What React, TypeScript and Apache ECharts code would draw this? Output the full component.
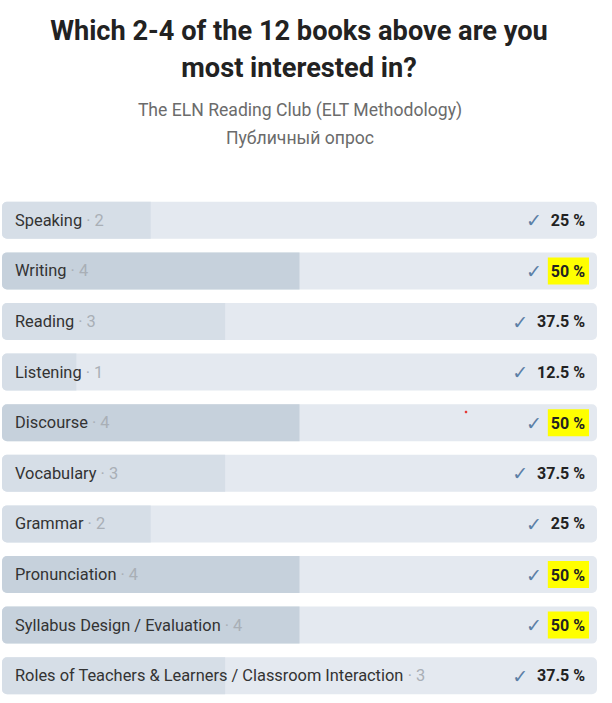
import React, { useEffect, useRef } from "react";
import * as echarts from "echarts";

const categories = [
  "Speaking",
  "Writing",
  "Reading",
  "Listening",
  "Discourse",
  "Vocabulary",
  "Grammar",
  "Pronunciation",
  "Syllabus Design / Evaluation",
  "Roles of Teachers & Learners / Classroom Interaction",
];
const votes = [2, 4, 3, 1, 4, 3, 2, 4, 4, 3];
const percents = [25, 50, 37.5, 12.5, 50, 37.5, 25, 50, 50, 37.5];
const highlighted = [false, true, false, false, true, false, false, true, true, false];

const titleLines = ["Which 2-4 of the 12 books above are you", "most interested in?"];
const subtitleLines = ["The ELN Reading Club (ELT Methodology)", "Публичный опрос"];

export default function App() {
  const ref = useRef<HTMLDivElement>(null);
  useEffect(() => {
    if (!ref.current) return;
    const chart = echarts.init(ref.current, undefined, { renderer: "svg" });
    const maxPct = Math.max(...percents);
    const font = "Roboto, 'Noto Sans', sans-serif";
    chart.setOption({
      animation: false,
      textStyle: { fontFamily: font },
      title: [
        {
          text: titleLines.join("\n"),
          left: 294,
          textAlign: "center",
          top: 7,
          textStyle: { fontSize: 27.2, fontWeight: "bold", color: "#222", lineHeight: 37, fontFamily: font },
        },
        {
          text: subtitleLines.join("\n"),
          left: 295,
          textAlign: "center",
          top: 91,
          textStyle: { fontSize: 17.6, fontWeight: "normal", color: "#6b6b6b", lineHeight: 28, fontFamily: font },
        },
      ],
      grid: { left: 2, right: 15, top: 195, bottom: 2 },
      xAxis: { type: "value", min: 0, max: 100, show: false },
      yAxis: {
        type: "category",
        data: categories,
        inverse: true,
        show: false,
      },
      series: [
        {
          type: "bar",
          z: 1,
          barWidth: 37,
          barGap: "-100%",
          data: categories.map(() => 100),
          itemStyle: { color: "#e4e9f0", borderRadius: 5 },
          silent: true,
        },
        {
          type: "bar",
          z: 2,
          barWidth: 37,
          barGap: "-100%",
          data: percents.map((p) => ({
            value: p,
            itemStyle: {
              color: p === maxPct ? "#c6d1dc" : "#d6dee7",
              borderRadius: [5, 0, 0, 5],
            },
          })),
          silent: true,
        },
        {
          type: "bar",
          z: 3,
          barWidth: 37,
          barGap: "-100%",
          data: categories.map(() => 100),
          itemStyle: { color: "rgba(0,0,0,0)" },
          label: {
            show: true,
            position: "insideLeft",
            distance: 13,
            formatter: (p: any) => `{n|${categories[p.dataIndex]}}{c| · ${votes[p.dataIndex]}}`,
            rich: {
              n: { fontSize: 16.4, color: "#333", fontFamily: font },
              c: { fontSize: 16.4, color: "#a9afb6", fontFamily: font },
            },
          },
          silent: true,
        },
        {
          type: "bar",
          z: 3,
          barWidth: 37,
          barGap: "-100%",
          data: categories.map(() => 100),
          itemStyle: { color: "rgba(0,0,0,0)" },
          label: {
            show: true,
            position: "insideRight",
            distance: 8,
            formatter: (p: any) => {
              const i = p.dataIndex;
              const pct = `${percents[i]} %`;
              return `{k|✓} {${highlighted[i] ? "h" : "p"}|${pct}}`;
            },
            rich: {
              k: { fontSize: 19, color: "#5b7fa6", fontFamily: "'DejaVu Sans', sans-serif", padding: [0, 3, 0, 0] },
              p: { fontSize: 16, fontWeight: "bold", color: "#222", fontFamily: font, padding: [0, 4, 0, 3] },
              h: {
                fontSize: 16,
                fontWeight: "bold",
                color: "#222",
                fontFamily: font,
                backgroundColor: "#ffff00",
                padding: [6, 4, 5, 3],
              },
            },
          },
          silent: true,
        },
      ],
      graphic: [
        { type: "circle", shape: { cx: 466, cy: 412, r: 1.3 }, style: { fill: "#e53935" }, z: 10 },
      ],
    });
    return () => chart.dispose();
  }, []);
  return <div ref={ref} style={{ width: 612, height: 703, position: "absolute", left: 0, top: 0 }} />;
}
